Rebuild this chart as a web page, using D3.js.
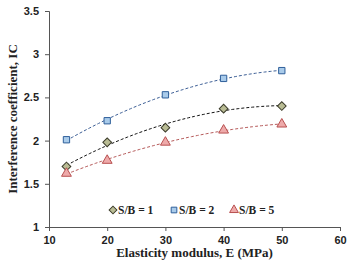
<!DOCTYPE html>
<html>
<head>
<meta charset="utf-8">
<script src="https://cdn.jsdelivr.net/npm/d3@7"></script>
<style>
  body { margin: 0; background: #fff; }
  .tick text { font-family: "Liberation Sans", Arial, sans-serif; font-weight: bold; font-size: 11px; fill: #222; }
  .title { font-family: "Liberation Serif", "Times New Roman", serif; font-weight: bold; font-size: 13px; fill: #222; }
  .leg { font-family: "Liberation Serif", "Times New Roman", serif; font-weight: bold; font-size: 11.5px; fill: #222; }
</style>
</head>
<body>
<div id="chart"></div>
<script>
// elasticity modulus values (MPa)
var modulus = [13, 20, 30, 40, 50];

// interference coefficient per S/B ratio
var sb1 = [1.70, 1.98, 2.15, 2.37, 2.40];
var sb2 = [2.01, 2.23, 2.53, 2.72, 2.81];
var sb5 = [1.62, 1.77, 1.98, 2.12, 2.19];

var seriesNames = ["S/B = 1", "S/B = 2", "S/B = 5"];

var xTicks = [10, 20, 30, 40, 50, 60];
var yTicks = [1, 1.5, 2, 2.5, 3, 3.5];

var width = 353, height = 270;
var margin = {top: 11, right: 13, bottom: 43, left: 49};

var svg = d3.select("#chart").append("svg")
  .attr("width", width)
  .attr("height", height);

var x = d3.scaleLinear().domain([10, 60]).range([margin.left, width - margin.right]);
var y = d3.scaleLinear().domain([1, 3.5]).range([height - margin.bottom, margin.top]);

// axes
svg.append("g")
  .attr("transform", "translate(0," + (height - margin.bottom) + ")")
  .call(d3.axisBottom(x).tickValues(xTicks).tickSize(4).tickPadding(5).tickFormat(d3.format("d")));

svg.append("g")
  .attr("transform", "translate(" + margin.left + ",0)")
  .call(d3.axisLeft(y).tickValues(yTicks).tickSize(4).tickPadding(6).tickFormat(function(d){ return String(d); }));

svg.selectAll(".domain, .tick line").attr("stroke", "#555").attr("stroke-width", 1);

// quadratic least squares trendline
function quadFit(xs, ys) {
  var n = xs.length, s = [0,0,0,0,0], t = [0,0,0];
  for (var i = 0; i < n; i++) {
    var p = 1;
    for (var k = 0; k < 5; k++) { s[k] += p; if (k < 3) t[k] += p * ys[i]; p *= xs[i]; }
  }
  var A = [[s[0], s[1], s[2], t[0]], [s[1], s[2], s[3], t[1]], [s[2], s[3], s[4], t[2]]];
  for (var c = 0; c < 3; c++) {
    for (var r = c + 1; r < 3; r++) {
      var f = A[r][c] / A[c][c];
      for (var j = c; j < 4; j++) A[r][j] -= f * A[c][j];
    }
  }
  var b = [0,0,0];
  for (var r2 = 2; r2 >= 0; r2--) {
    var sum = A[r2][3];
    for (var j2 = r2 + 1; j2 < 3; j2++) sum -= A[r2][j2] * b[j2];
    b[r2] = sum / A[r2][r2];
  }
  return function(v) { return b[0] + b[1] * v + b[2] * v * v; };
}

var series = [
  {name: seriesNames[0], values: sb1, line: "#111", fill: "#b9bc94", stroke: "#3b3b2a", symbol: d3.symbolSquare, rot: 45, size: 38},
  {name: seriesNames[1], values: sb2, line: "#3d5f96", fill: "#a9cbea", stroke: "#2f5f9a", symbol: d3.symbolSquare, rot: 0, size: 40},
  {name: seriesNames[2], values: sb5, line: "#b65a5a", fill: "#eeaaaa", stroke: "#b85050", symbol: d3.symbolTriangle, rot: 0, size: 42}
];

var line = d3.line().x(function(d){ return x(d[0]); }).y(function(d){ return y(d[1]); }).curve(d3.curveBasis);

series.forEach(function(s) {
  var fit = quadFit(modulus, s.values);
  var pts = d3.range(modulus[0], modulus[modulus.length - 1] + 0.01, 0.5).map(function(v){ return [v, fit(v)]; });
  svg.append("path")
    .attr("d", line(pts))
    .attr("fill", "none")
    .attr("stroke", s.line)
    .attr("stroke-width", 1)
    .attr("stroke-dasharray", "3,2");
});

series.forEach(function(s) {
  svg.append("g").selectAll("path")
    .data(s.values)
    .enter().append("path")
    .attr("d", d3.symbol().type(s.symbol).size(s.size))
    .attr("transform", function(d, i){ return "translate(" + x(modulus[i]) + "," + y(d) + ") rotate(" + s.rot + ")"; })
    .attr("fill", s.fill)
    .attr("stroke", s.stroke)
    .attr("stroke-width", 1);
});

// legend
var legX = [113, 174, 234];
var legend = svg.selectAll(".legend")
  .data(series)
  .enter().append("g")
  .attr("class", "legend")
  .attr("transform", function(d, i){ return "translate(" + legX[i] + ",210)"; });

legend.append("path")
  .attr("d", function(d){ return d3.symbol().type(d.symbol).size(d.size * 0.8)(); })
  .attr("transform", function(d){ return "rotate(" + d.rot + ")"; })
  .attr("fill", function(d){ return d.fill; })
  .attr("stroke", function(d){ return d.stroke; });

legend.append("text")
  .attr("class", "leg")
  .attr("x", 5)
  .attr("dy", "0.35em")
  .text(function(d){ return d.name; });

// axis titles
svg.append("text")
  .attr("class", "title")
  .attr("x", (margin.left + width - margin.right) / 2)
  .attr("y", 257)
  .attr("text-anchor", "middle")
  .text("Elasticity modulus, E (MPa)");

svg.append("text")
  .attr("class", "title")
  .attr("transform", "translate(17," + ((margin.top + height - margin.bottom) / 2) + ") rotate(-90)")
  .attr("text-anchor", "middle")
  .text("Interference coefficient, IC");
</script>
</body>
</html>
